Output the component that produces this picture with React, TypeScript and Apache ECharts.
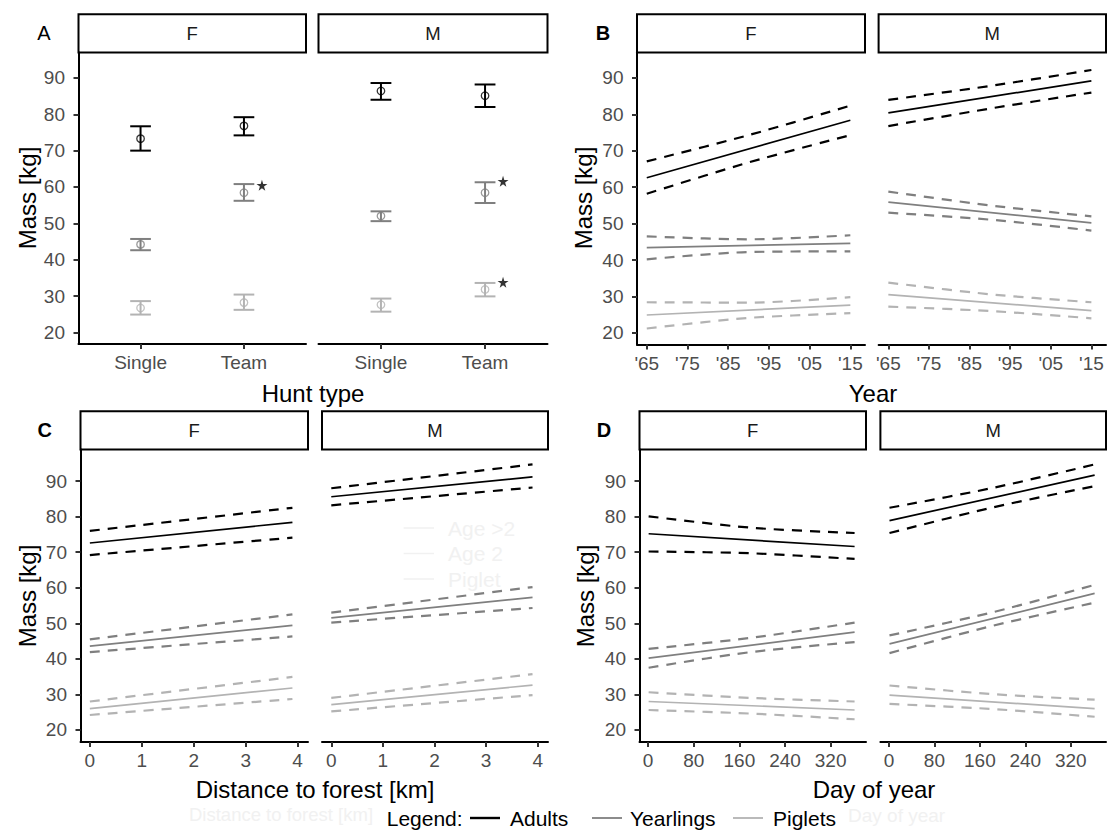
import React, { useEffect, useRef } from "react";
import * as echarts from "echarts";

// ---------- shared ----------
const FACETS = ["F", "M"];
const AGE_CLASSES = ["Adults", "Yearlings", "Piglets"];
const AGE_COLORS = ["#000000", "#7f7f7f", "#b3b3b3"];
const Y_TICKS = [20, 30, 40, 50, 60, 70, 80, 90];
const PANEL_NAMES = ["A", "B", "C", "D"];
const X_TITLES = ["Hunt type", "Year", "Distance to forest [km]", "Day of year"];
const Y_TITLE = "Mass [kg]";

// ---------- panel A (mean, lower, upper per hunt type) ----------
const HUNT_TYPES = ["Single", "Team"];
const A_F_ADULTS = [[73.3, 70.0, 76.7], [76.8, 74.2, 79.2]];
const A_F_YEARLINGS = [[44.2, 42.6, 45.7], [58.4, 56.2, 60.8]];
const A_F_PIGLETS = [[26.7, 24.9, 28.6], [28.2, 26.2, 30.4]];
const A_M_ADULTS = [[86.4, 84.0, 88.6], [85.1, 82.0, 88.2]];
const A_M_YEARLINGS = [[52.0, 50.6, 53.3], [58.4, 55.6, 61.3]];
const A_M_PIGLETS = [[27.6, 25.7, 29.3], [31.8, 29.9, 33.6]];
// significance stars: [hunt type position, mass]
const A_F_STARS = [[2, 60.5]];
const A_M_STARS = [[2, 61.6], [2, 33.8]];

// ---------- panel B (year) ----------
const YEAR_TICKS = [1965, 1975, 1985, 1995, 2005, 2015];
const B_X_FIT = [1965, 2015];
const B_X_CI = [1965, 1990, 2015];
const B_F_FIT = [[62.6, 78.4], [43.4, 44.6], [24.9, 27.6]];
const B_F_UPPER = [[67.1, 74.3, 82.4], [46.5, 45.7, 46.8], [28.4, 28.3, 29.8]];
const B_F_LOWER = [[58.2, 66.8, 74.3], [40.2, 42.2, 42.4], [21.2, 24.1, 25.4]];
const B_M_FIT = [[80.4, 89.2], [55.9, 50.2], [30.5, 26.1]];
const B_M_UPPER = [[84.0, 87.8, 92.2], [58.8, 55.0, 52.0], [33.8, 30.6, 28.4]];
const B_M_LOWER = [[76.8, 81.6, 86.0], [53.0, 51.1, 48.1], [27.2, 26.0, 24.0]];

// ---------- panel C (distance to forest) ----------
const DIST_TICKS = [0, 1, 2, 3, 4];
const C_X_FIT = [0, 3.9];
const C_X_CI = [0, 3.9];
const C_F_FIT = [[72.6, 78.4], [43.6, 49.4], [26.0, 31.8]];
const C_F_UPPER = [[76.0, 82.5], [45.5, 52.5], [28.0, 34.9]];
const C_F_LOWER = [[69.2, 74.1], [41.9, 46.3], [24.2, 28.7]];
const C_M_FIT = [[85.6, 91.2], [51.5, 57.3], [27.1, 32.6]];
const C_M_UPPER = [[88.0, 94.7], [53.0, 60.2], [29.0, 35.7]];
const C_M_LOWER = [[83.2, 88.2], [50.2, 54.3], [25.2, 29.8]];

// ---------- panel D (day of year) ----------
const DAY_TICKS = [0, 80, 160, 240, 320];
const D_X_FIT = [1, 362];
const D_X_CI = [1, 180, 362];
const D_F_FIT = [[75.2, 71.6], [40.2, 47.5], [28.0, 25.6]];
const D_F_UPPER = [[80.1, 76.9, 75.4], [42.8, 45.9, 50.2], [30.6, 29.0, 28.0]];
const D_F_LOWER = [[70.2, 69.7, 68.1], [37.5, 41.9, 44.7], [25.6, 24.6, 23.0]];
const D_M_FIT = [[78.9, 91.7], [44.2, 58.4], [29.8, 26.0]];
const D_M_UPPER = [[82.5, 88.0, 94.7], [46.6, 53.0, 60.8], [32.5, 30.1, 28.5]];
const D_M_LOWER = [[75.4, 82.5, 88.6], [41.6, 49.2, 55.8], [27.3, 25.9, 23.7]];

// ---------- layout ----------
const FONT = "'Liberation Sans', Arial, sans-serif";
const GRID_RECTS = [
  [78.5, 52.5, 227.5, 291.5],
  [318.5, 52.5, 229, 291.5],
  [637, 52.5, 228, 292],
  [878.6, 52.5, 227.4, 292],
  [80.5, 449.5, 227.5, 292.5],
  [322, 449.5, 226, 292.5],
  [639.5, 449.5, 226.5, 292.5],
  [880.4, 449.5, 225.6, 292.5],
];
const STRIP_H = 38.2;
const STAR_PATH =
  "path://M50,0 L61,35 L98,35 L68,57 L79,91 L50,70 L21,91 L32,57 L2,35 L39,35 Z";

function buildOption() {
  const grid = GRID_RECTS.map(([left, top, width, height]) => ({
    left,
    top,
    width,
    height,
    containLabel: false,
  }));

  const xCfg = [
    {
      min: 0.4,
      max: 2.6,
      ticks: [1, 2],
      fmt: (v: number) => HUNT_TYPES[Math.round(v) - 1] ?? "",
    },
    {
      min: 1962.6,
      max: 2018.6,
      ticks: YEAR_TICKS,
      fmt: (v: number) => "'" + String(Math.round(v)).slice(2),
    },
    { min: -0.18, max: 4.2, ticks: DIST_TICKS, fmt: (v: number) => String(v) },
    { min: -15, max: 382, ticks: DAY_TICKS, fmt: (v: number) => String(v) },
  ];
  const yRanges = [
    [16.8, 97.0],
    [16.8, 97.0],
    [16.6, 98.9],
    [16.6, 98.9],
  ];

  const xAxis: any[] = [];
  const yAxis: any[] = [];
  GRID_RECTS.forEach((_, g) => {
    const p = Math.floor(g / 2);
    const c = xCfg[p];
    xAxis.push({
      type: "value",
      gridIndex: g,
      min: c.min,
      max: c.max,
      axisLine: { show: true, onZero: false, lineStyle: { color: "#000", width: 2 } },
      axisTick: {
        show: true,
        length: 5,
        customValues: c.ticks,
        lineStyle: { color: "#333", width: 2 },
      },
      axisLabel: {
        show: true,
        customValues: c.ticks,
        formatter: c.fmt,
        color: "#4d4d4d",
        fontSize: 19,
        fontFamily: FONT,
        margin: 9,
        showMinLabel: true,
        showMaxLabel: true,
      },
      splitLine: { show: false },
    });
    const isLeft = g % 2 === 0;
    yAxis.push({
      type: "value",
      gridIndex: g,
      min: yRanges[p][0],
      max: yRanges[p][1],
      show: isLeft,
      axisLine: { show: isLeft, onZero: false, lineStyle: { color: "#000", width: 2 } },
      axisTick: {
        show: isLeft,
        length: 5,
        customValues: Y_TICKS,
        lineStyle: { color: "#333", width: 2 },
      },
      axisLabel: {
        show: isLeft,
        customValues: Y_TICKS,
        color: "#4d4d4d",
        fontSize: 19,
        fontFamily: FONT,
        margin: 13.5,
      },
      splitLine: { show: false },
    });
  });

  const series: any[] = [];

  // ----- panel A: error bars + points -----
  const aData = [
    [A_F_ADULTS, A_F_YEARLINGS, A_F_PIGLETS],
    [A_M_ADULTS, A_M_YEARLINGS, A_M_PIGLETS],
  ];
  const CAP = 0.1;
  aData.forEach((facet, g) => {
    facet.forEach((rows, a) => {
      const color = AGE_COLORS[a];
      series.push({
        type: "custom",
        name: AGE_CLASSES[a],
        xAxisIndex: g,
        yAxisIndex: g,
        silent: true,
        encode: { x: 0, y: [1, 2] },
        data: rows.map((r, i) => [i + 1, r[1], r[2]]),
        renderItem: (_params: any, api: any) => {
          const x = api.value(0);
          const lo = api.value(1);
          const hi = api.value(2);
          const pLo = api.coord([x, lo]);
          const pHi = api.coord([x, hi]);
          const l1 = api.coord([x - CAP, hi]);
          const r1 = api.coord([x + CAP, hi]);
          const l2 = api.coord([x - CAP, lo]);
          const r2 = api.coord([x + CAP, lo]);
          const st = { stroke: color, lineWidth: 2 };
          return {
            type: "group",
            children: [
              { type: "line", shape: { x1: pLo[0], y1: pLo[1], x2: pHi[0], y2: pHi[1] }, style: st },
              { type: "line", shape: { x1: l1[0], y1: l1[1], x2: r1[0], y2: r1[1] }, style: st },
              { type: "line", shape: { x1: l2[0], y1: l2[1], x2: r2[0], y2: r2[1] }, style: st },
            ],
          };
        },
      });
      series.push({
        type: "scatter",
        xAxisIndex: g,
        yAxisIndex: g,
        silent: true,
        symbol: "circle",
        symbolSize: 7.5,
        itemStyle: { color: "rgba(255,255,255,0)", borderColor: color, borderWidth: 1.3 },
        data: rows.map((r, i) => [i + 1, r[0]]),
        z: 3,
      });
    });
  });
  [A_F_STARS, A_M_STARS].forEach((stars, g) => {
    series.push({
      type: "scatter",
      xAxisIndex: g,
      yAxisIndex: g,
      silent: true,
      symbol: STAR_PATH,
      symbolSize: 11,
      symbolOffset: [18, 0],
      itemStyle: { color: "#000" },
      data: stars,
      z: 4,
    });
  });

  // ----- panels B, C, D: fitted lines with dashed CIs -----
  const linePanels = [
    { g: 2, xf: B_X_FIT, xc: B_X_CI, fit: B_F_FIT, up: B_F_UPPER, lo: B_F_LOWER },
    { g: 3, xf: B_X_FIT, xc: B_X_CI, fit: B_M_FIT, up: B_M_UPPER, lo: B_M_LOWER },
    { g: 4, xf: C_X_FIT, xc: C_X_CI, fit: C_F_FIT, up: C_F_UPPER, lo: C_F_LOWER },
    { g: 5, xf: C_X_FIT, xc: C_X_CI, fit: C_M_FIT, up: C_M_UPPER, lo: C_M_LOWER },
    { g: 6, xf: D_X_FIT, xc: D_X_CI, fit: D_F_FIT, up: D_F_UPPER, lo: D_F_LOWER },
    { g: 7, xf: D_X_FIT, xc: D_X_CI, fit: D_M_FIT, up: D_M_UPPER, lo: D_M_LOWER },
  ];
  const mkLine = (g: number, xs: number[], ys: number[], a: number, dashed: boolean) => ({
    type: "line",
    name: AGE_CLASSES[a],
    xAxisIndex: g,
    yAxisIndex: g,
    silent: true,
    symbol: "none",
    showSymbol: false,
    smooth: dashed ? 0.3 : false,
    data: xs.map((x, i) => [x, ys[i]]),
    lineStyle: {
      color: AGE_COLORS[a],
      width: dashed ? 2.2 : 1.7,
      type: dashed ? [10, 8] : "solid",
    },
    z: dashed ? 2 : 3,
  });
  linePanels.forEach((lp) => {
    AGE_CLASSES.forEach((_, a) => {
      series.push(mkLine(lp.g, lp.xc, lp.up[a], a, true));
      series.push(mkLine(lp.g, lp.xc, lp.lo[a], a, true));
      series.push(mkLine(lp.g, lp.xf, lp.fit[a], a, false));
    });
  });

  // ----- graphics: strips, labels, titles, legend -----
  const graphic: any[] = [];
  GRID_RECTS.forEach(([left, top, width], g) => {
    graphic.push({
      type: "rect",
      shape: { x: left, y: top - STRIP_H, width, height: STRIP_H },
      style: { fill: "#ffffff", stroke: "#000", lineWidth: 2 },
      silent: true,
    });
    graphic.push({
      type: "text",
      x: left + width / 2,
      y: top - STRIP_H / 2 + 0.5,
      style: {
        text: FACETS[g % 2],
        fill: "#1a1a1a",
        fontSize: 18.5,
        fontFamily: FONT,
        align: "center",
        verticalAlign: "middle",
      },
      silent: true,
    });
  });

  const labelPos = [
    [44, 33, "normal"],
    [603, 33, "bold"],
    [44.6, 430, "bold"],
    [604, 430, "bold"],
  ];
  PANEL_NAMES.forEach((n, i) => {
    graphic.push({
      type: "text",
      x: labelPos[i][0],
      y: labelPos[i][1],
      style: {
        text: n,
        fill: "#000",
        fontSize: 20,
        fontWeight: labelPos[i][2],
        fontFamily: FONT,
        align: "center",
        verticalAlign: "middle",
      },
      silent: true,
    });
  });

  const xTitlePos = [
    [313, 393],
    [873, 393],
    [315, 789],
    [874, 789],
  ];
  X_TITLES.forEach((t, i) => {
    graphic.push({
      type: "text",
      x: xTitlePos[i][0],
      y: xTitlePos[i][1],
      style: {
        text: t,
        fill: "#000",
        fontSize: 24,
        fontFamily: FONT,
        align: "center",
        verticalAlign: "middle",
      },
      silent: true,
    });
  });
  const yTitlePos = [
    [27, 198],
    [583, 198],
    [27, 596],
    [585.5, 596],
  ];
  yTitlePos.forEach(([x, y]) => {
    graphic.push({
      type: "text",
      x,
      y,
      rotation: Math.PI / 2,
      style: {
        text: Y_TITLE,
        fill: "#000",
        fontSize: 24,
        fontFamily: FONT,
        align: "center",
        verticalAlign: "middle",
      },
      silent: true,
    });
  });

  // faint remnants visible in the original
  const GHOST = "#f1f1f1";
  const ghostLegend = ["Age >2", "Age 2", "Piglet"];
  ghostLegend.forEach((t, i) => {
    const y = 528 + i * 25.5;
    graphic.push({
      type: "line",
      shape: { x1: 403.6, y1: y, x2: 434, y2: y },
      style: { stroke: GHOST, lineWidth: 1.5 },
      silent: true,
    });
    graphic.push({
      type: "text",
      x: 448,
      y,
      style: { text: t, fill: GHOST, fontSize: 21, fontFamily: FONT, align: "left", verticalAlign: "middle" },
      silent: true,
    });
  });
  graphic.push({
    type: "text",
    x: 189,
    y: 814,
    style: { text: X_TITLES[2], fill: GHOST, fontSize: 18.5, fontFamily: FONT, align: "left", verticalAlign: "middle" },
    silent: true,
    z: -1,
  });
  graphic.push({
    type: "text",
    x: 848,
    y: 815,
    style: { text: X_TITLES[3], fill: GHOST, fontSize: 19, fontFamily: FONT, align: "left", verticalAlign: "middle" },
    silent: true,
    z: -1,
  });

  // legend
  const LEG_Y = 818;
  graphic.push({
    type: "text",
    x: 386.7,
    y: LEG_Y,
    style: { text: "Legend:", fill: "#000", fontSize: 21, fontFamily: FONT, align: "left", verticalAlign: "middle" },
    silent: true,
  });
  const legX = [
    [470, 510],
    [592, 630],
    [733, 773],
  ];
  AGE_CLASSES.forEach((name, a) => {
    graphic.push({
      type: "line",
      shape: { x1: legX[a][0], y1: LEG_Y, x2: legX[a][0] + 30, y2: LEG_Y },
      style: { stroke: AGE_COLORS[a], lineWidth: a === 0 ? 2.4 : 1.8 },
      silent: true,
    });
    graphic.push({
      type: "text",
      x: legX[a][1],
      y: LEG_Y,
      style: { text: name, fill: "#000", fontSize: 21, fontFamily: FONT, align: "left", verticalAlign: "middle" },
      silent: true,
    });
  });

  return {
    animation: false,
    backgroundColor: "#ffffff",
    textStyle: { fontFamily: FONT },
    grid,
    xAxis,
    yAxis,
    series,
    graphic,
  };
}

export default function App() {
  const ref = useRef<HTMLDivElement>(null);
  useEffect(() => {
    if (!ref.current) return;
    const chart = echarts.init(ref.current, undefined, { renderer: "svg" });
    chart.setOption(buildOption() as any);
    return () => chart.dispose();
  }, []);
  return (
    <div
      ref={ref}
      style={{ position: "absolute", left: 0, top: 0, width: 1107, height: 830, background: "#fff" }}
    />
  );
}
